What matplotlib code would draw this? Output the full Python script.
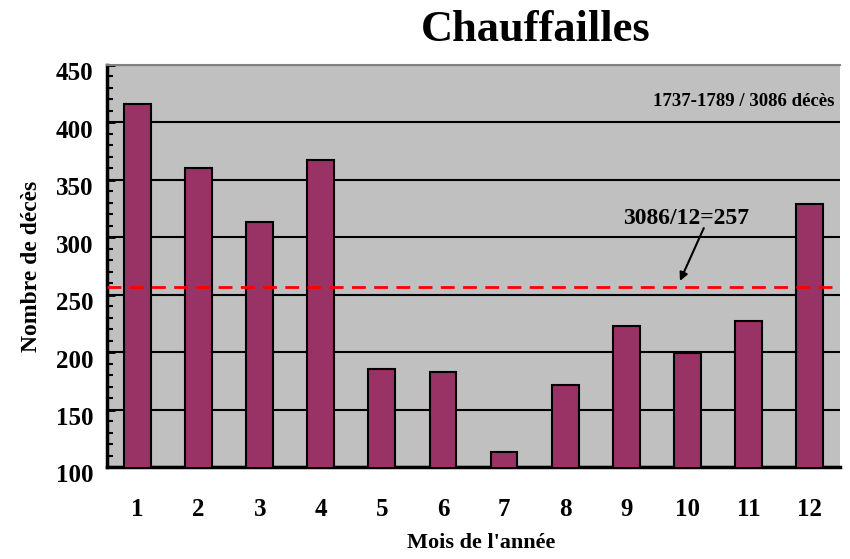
import matplotlib.pyplot as plt
import matplotlib.transforms as mtransforms
import numpy as np

# Monthly deaths, Chauffailles 1737-1789
months = ['1', '2', '3', '4', '5', '6', '7', '8', '9', '10', '11', '12']
deaths = [416, 360, 313, 367, 185, 183, 113, 171, 223, 199, 227, 329]
mean_line = 257
y_ticks = [100, 150, 200, 250, 300, 350, 400, 450]

plt.rcParams['font.family'] = ['Liberation Serif', 'DejaVu Serif']
plt.rcParams['font.weight'] = 'bold'

fig = plt.figure(figsize=(8.5, 5.59), dpi=100)
ax = fig.add_axes([107 / 850, 1 - 467 / 559, (840 - 107) / 850, (467 - 65) / 559])
ax.set_facecolor('#C0C0C0')

x = np.arange(len(months))
ax.bar(x, deaths, width=0.44, bottom=0, color='#993366', edgecolor='black',
       linewidth=1.5, zorder=3)

ax.set_xlim(-0.5, len(months) - 0.5)
ax.set_ylim(100, 450)
ax.set_yticks(y_ticks)
ax.set_yticks(np.arange(100, 451, 10), minor=True)
ax.yaxis.grid(True, color='black', linewidth=1.5, zorder=1)
ax.set_axisbelow(True)

ax.set_xticks(x)
ax.set_xticklabels(months, fontsize=18, fontweight='bold')
ax.tick_params(axis='x', length=0, pad=22)
ax.tick_params(axis='y', which='major', direction='in', length=6, width=2,
               labelsize=18, pad=10)
ax.tick_params(axis='y', which='minor', direction='in', length=4, width=1.5)

# y labels sit a little below their gridlines in the original
shift = mtransforms.ScaledTranslation(0, -0.065, fig.dpi_scale_trans)
for lbl in ax.get_yticklabels():
    lbl.set_fontweight('bold')
    lbl.set_transform(lbl.get_transform() + shift)

for side in ['left', 'bottom']:
    ax.spines[side].set_linewidth(2.5)
ax.spines['top'].set_color('#808080')
ax.spines['top'].set_linewidth(1.5)
ax.spines['right'].set_visible(False)

# Mean line
ax.axhline(mean_line, color='#FF0000', linestyle=(0, (5, 3)), linewidth=2, zorder=4)
ax.text(8.98, 316, '3086/12=257', fontsize=17, fontweight='bold',
        ha='center', va='center', zorder=5)
ax.annotate('', xy=(8.88, 262), xytext=(9.27, 308),
            arrowprops=dict(arrowstyle='-|>', color='black', lw=1.5,
                            mutation_scale=12, shrinkA=0, shrinkB=0))

ax.text(0.993, 0.91, '1737-1789 / 3086 décès', transform=ax.transAxes,
        fontsize=13.5, fontweight='bold', ha='right', va='center')

ax.set_ylabel('Nombre de décès', fontsize=17, fontweight='bold', labelpad=10)
fig.text(481 / 850, 1 - 543 / 559, "Mois de l'année", fontsize=16,
         fontweight='bold', ha='center', va='center')
fig.text(536 / 850, 1 - 30 / 559, 'Chauffailles', fontsize=32, fontweight='bold',
         ha='center', va='center')

fig.savefig('out.png', dpi=100)
